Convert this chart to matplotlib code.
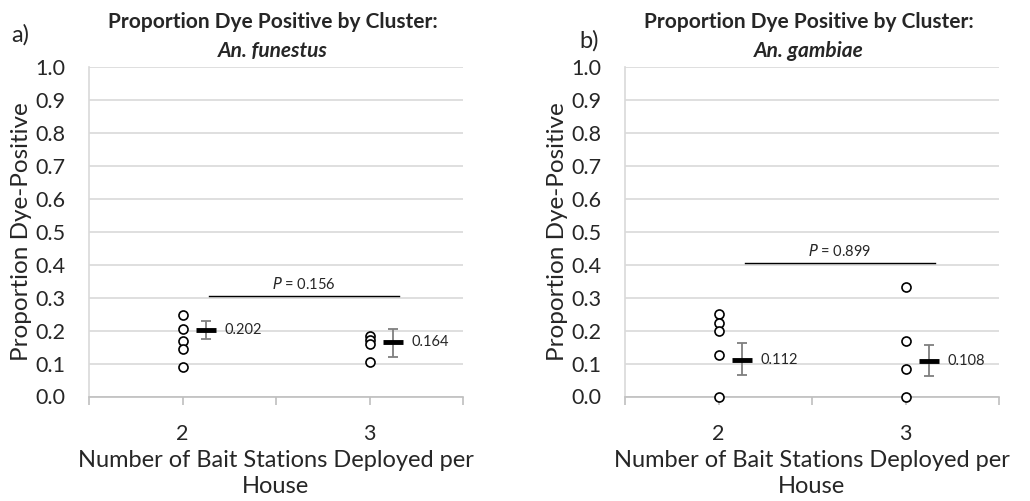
import matplotlib
matplotlib.use("Agg")
import matplotlib.pyplot as plt

plt.rcParams['font.family'] = ['Lato', 'DejaVu Sans']

# Data
groups = [2, 3]
fun_points = [[0.248, 0.206, 0.167, 0.145, 0.091],
              [0.184, 0.172, 0.160, 0.105]]
fun_means = [0.202, 0.164]
fun_err_lo = [0.176, 0.120]
fun_err_hi = [0.228, 0.206]
fun_p = "0.156"
fun_p_y = 0.306

gam_points = [[0.250, 0.222, 0.200, 0.125, 0.0],
              [0.333, 0.167, 0.083, 0.0]]
gam_means = [0.112, 0.108]
gam_err_lo = [0.066, 0.061]
gam_err_hi = [0.162, 0.157]
gam_p = "0.899"
gam_p_y = 0.406

W, H = 1030, 501
fig = plt.figure(figsize=(W/100, H/100), dpi=100)

def make_panel(left, points, means, lo, hi, ptxt, py, letter, species, letter_xy):
    ax = fig.add_axes([left/W, 1-396.5/H, 374/W, (396.5-67)/H])
    ax.set_xlim(1.5, 3.5)
    ax.set_ylim(0, 1.0)
    ax.set_yticks([i/10 for i in range(11)])
    ax.set_yticklabels([f"{i/10:.1f}" for i in range(11)], fontsize=15.5, color='#262626')
    ax.set_xticks([1.5, 2, 2.5, 3, 3.5])
    ax.set_xticklabels(["", "2", "", "3", ""], fontsize=15.5, color='#262626')
    ax.tick_params(axis='y', length=0, pad=17)
    ax.tick_params(axis='x', length=6, color='#bfbfbf', width=1.2, pad=14)
    ax.grid(axis='y', color='#d9d9d9', lw=1.2)
    ax.set_axisbelow(True)
    for s in ['top', 'right']:
        ax.spines[s].set_visible(False)
    ax.spines['left'].set_color('#d9d9d9')
    ax.spines['left'].set_linewidth(1.2)
    ax.spines['bottom'].set_color('#bfbfbf')
    ax.spines['bottom'].set_linewidth(1.2)
    off = 0.125
    for g, pts, m, l, h in zip(groups, points, means, lo, hi):
        ax.plot([g]*len(pts), pts, 'o', mfc='white', mec='black', ms=6.5, mew=1.2,
                clip_on=False, zorder=3)
        ax.errorbar([g+off], [m], yerr=[[m-l], [h-m]], fmt='none', ecolor='#7f7f7f',
                    elinewidth=1.3, capsize=3.5, capthick=1.3, zorder=3)
        ax.plot([g+off], [m], marker='_', ms=15, mew=3.5, color='black', zorder=4)
        ax.text(g+off+0.1, m, f"{m:.3f}", fontsize=10.5, va='center', ha='left', color='#262626')
    ax.plot([2.14, 3.16], [py, py], color='black', lw=1.0)
    ax.text(2.65, py+0.012, r"$\it{P}$" + f" = {ptxt}", fontsize=10.5, ha='center', va='bottom',
            color='#262626')
    ax.set_ylabel("Proportion Dye-Positive", fontsize=17.5, color='#262626', labelpad=2)
    ax.set_xlabel("Number of Bait Stations Deployed per\nHouse", fontsize=17, color='#262626',
                  labelpad=4, linespacing=1.3)
    cx = left + 184
    fig.text(cx/W, 1-22/H, "Proportion Dye Positive by Cluster:", fontsize=15, weight='bold',
             ha='center', va='center', color='#262626')
    fig.text(cx/W, 1-51/H, species, fontsize=15, weight='bold', style='italic',
             ha='center', va='center', color='#262626')
    fig.text(letter_xy[0]/W, 1-letter_xy[1]/H, letter, fontsize=17, ha='left', va='center',
             color='#262626')
    return ax

make_panel(89, fun_points, fun_means, fun_err_lo, fun_err_hi, fun_p, fun_p_y,
           "a)", "An. funestus", (11, 35))
make_panel(625, gam_points, gam_means, gam_err_lo, gam_err_hi, gam_p, gam_p_y,
           "b)", "An. gambiae", (579, 41))

fig.savefig("out.png", dpi=100)
